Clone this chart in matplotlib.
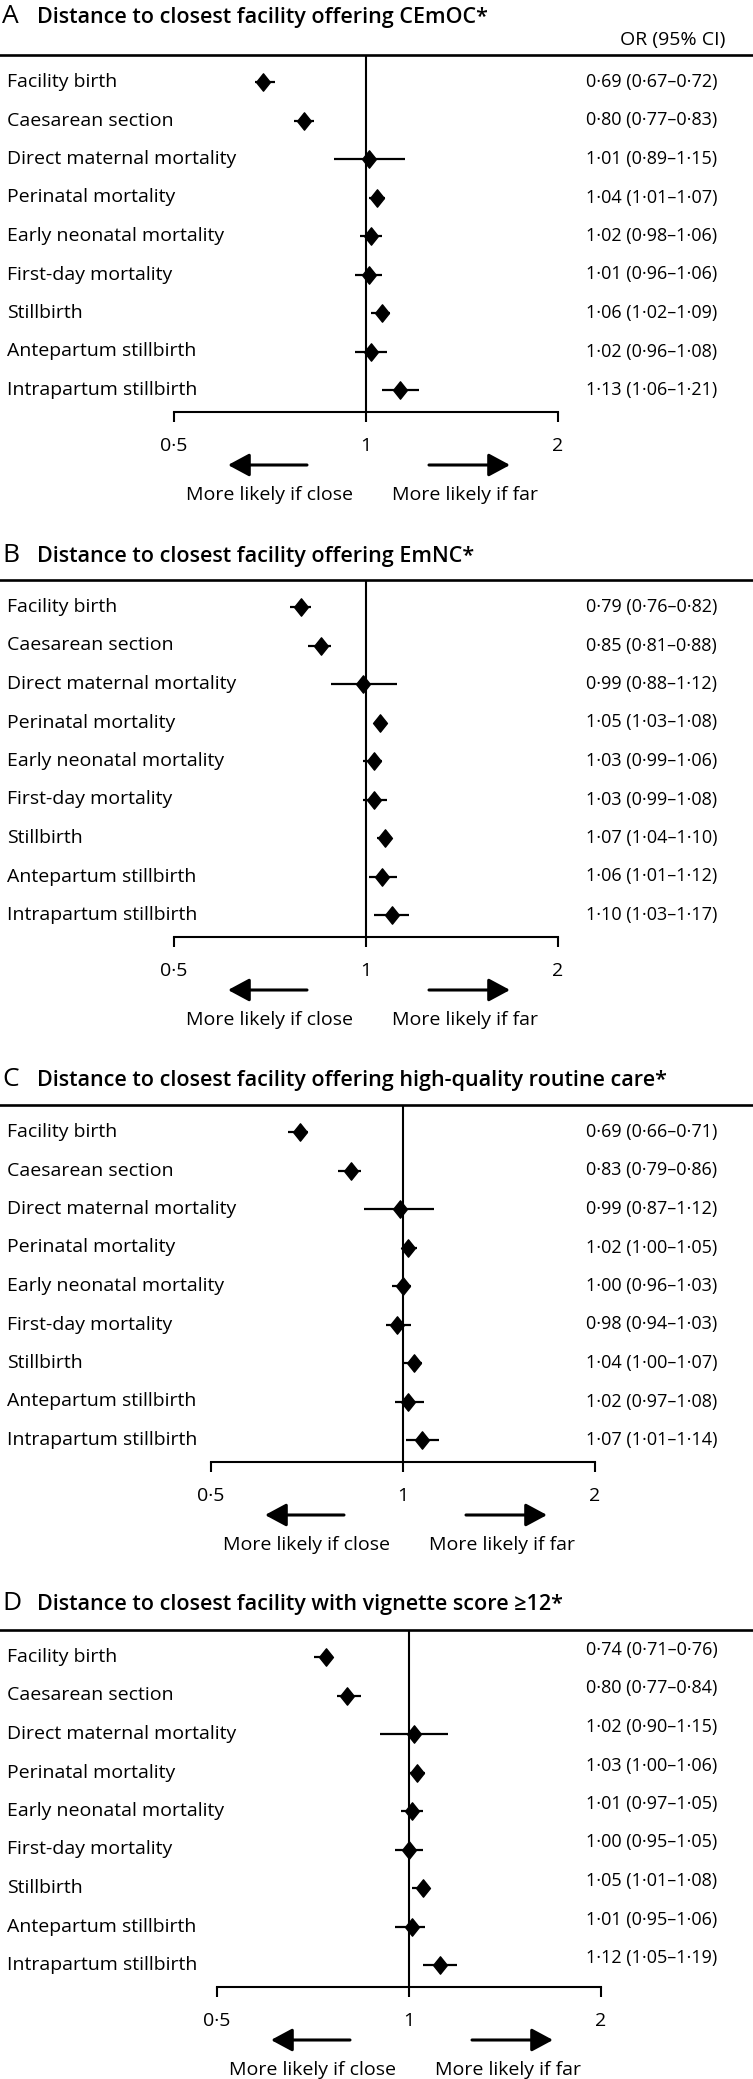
import matplotlib
matplotlib.use('Agg')
import matplotlib.pyplot as plt
import matplotlib.transforms as mtransforms
from matplotlib.path import Path
from matplotlib.ticker import NullLocator

plt.rcParams['font.family'] = ['Open Sans', 'DejaVu Sans']

# ---------------- data ----------------
outcomes = ["Facility birth", "Caesarean section", "Direct maternal mortality",
            "Perinatal mortality", "Early neonatal mortality", "First-day mortality",
            "Stillbirth", "Antepartum stillbirth", "Intrapartum stillbirth"]

panel_letters = ["A", "B", "C", "D"]
panel_titles = ["Distance to closest facility offering CEmOC*",
                "Distance to closest facility offering EmNC*",
                "Distance to closest facility offering high-quality routine care*",
                "Distance to closest facility with vignette score ≥12*"]

or_a = [0.69, 0.80, 1.01, 1.04, 1.02, 1.01, 1.06, 1.02, 1.13]
lo_a = [0.67, 0.77, 0.89, 1.01, 0.98, 0.96, 1.02, 0.96, 1.06]
hi_a = [0.72, 0.83, 1.15, 1.07, 1.06, 1.06, 1.09, 1.08, 1.21]

or_b = [0.79, 0.85, 0.99, 1.05, 1.03, 1.03, 1.07, 1.06, 1.10]
lo_b = [0.76, 0.81, 0.88, 1.03, 0.99, 0.99, 1.04, 1.01, 1.03]
hi_b = [0.82, 0.88, 1.12, 1.08, 1.06, 1.08, 1.10, 1.12, 1.17]

or_c = [0.69, 0.83, 0.99, 1.02, 1.00, 0.98, 1.04, 1.02, 1.07]
lo_c = [0.66, 0.79, 0.87, 1.00, 0.96, 0.94, 1.00, 0.97, 1.01]
hi_c = [0.71, 0.86, 1.12, 1.05, 1.03, 1.03, 1.07, 1.08, 1.14]

or_d = [0.74, 0.80, 1.02, 1.03, 1.01, 1.00, 1.05, 1.01, 1.12]
lo_d = [0.71, 0.77, 0.90, 1.00, 0.97, 0.95, 1.01, 0.95, 1.05]
hi_d = [0.76, 0.84, 1.15, 1.06, 1.05, 1.05, 1.08, 1.06, 1.19]

x_ticks = [0.5, 1, 2]
x_tick_labels = ["0·5", "1", "2"]
col_header = "OR (95% CI)"
left_note = "More likely if close"
right_note = "More likely if far"

panels = [(or_a, lo_a, hi_a), (or_b, lo_b, hi_b), (or_c, lo_c, hi_c), (or_d, lo_d, hi_d)]

# ---------------- layout (pixels) ----------------
W, H = 753, 2079
fig = plt.figure(figsize=(W / 100, H / 100), dpi=100)

panel_dy = 525
row_gap = 38.5
px_per_doubling = 192.0
center_x = [366, 366, 403, 409]
value_dy = [0, 0, 0, -7]
title_base = [23, 562, 1086, 1610]
FS = 14
FS_VAL = 13

diamond = Path([(0, 1), (0.8, 0), (0, -1), (-0.8, 0), (0, 1)],
               [Path.MOVETO, Path.LINETO, Path.LINETO, Path.LINETO, Path.CLOSEPOLY])


def fmt(v):
    return f"{v:.2f}".replace(".", "·")


for k in range(4):
    y0 = k * panel_dy
    top = 55 + y0
    row0 = 82 + y0
    axis_y = 412 + y0
    cx = center_x[k]
    orv, lov, hiv = panels[k]

    ax = fig.add_axes([0, 1 - axis_y / H, 1, (axis_y - top) / H])
    ax.set_xscale('log', base=2)
    ax.set_xlim(2 ** (-cx / px_per_doubling), 2 ** ((W - cx) / px_per_doubling))
    ax.set_ylim((axis_y - row0) / row_gap, -(row0 - top) / row_gap)
    ax.patch.set_alpha(0)

    for s in ['left', 'right']:
        ax.spines[s].set_visible(False)
    ax.spines['top'].set_linewidth(1.9)
    ax.spines['bottom'].set_linewidth(1.5)
    ax.spines['bottom'].set_bounds(x_ticks[0], x_ticks[-1])
    ax.set_xticks(x_ticks)
    ax.set_xticklabels(x_tick_labels, fontsize=FS)
    ax.xaxis.set_minor_locator(NullLocator())
    ax.tick_params(axis='x', direction='out', length=7, width=1.5, pad=11)
    ax.set_yticks([])

    ax.axvline(1, color='k', lw=1.5, zorder=1)

    ys = list(range(len(outcomes)))
    ax.hlines(ys, lov, hiv, color='k', lw=1.6, zorder=2)
    ax.plot(orv, ys, ls='none', marker=diamond, ms=12.5, color='k', zorder=3)

    trans = mtransforms.blended_transform_factory(fig.transFigure, ax.transData)
    for i, name in enumerate(outcomes):
        ax.text(7 / W, i, name, transform=trans, ha='left', va='center', fontsize=FS)
        ax.text(586 / W, i + value_dy[k] / row_gap,
                f"{fmt(orv[i])} ({fmt(lov[i])}–{fmt(hiv[i])})",
                transform=trans, ha='left', va='center', fontsize=FS_VAL)

    # arrows and notes below the axis
    y_arrow = (axis_y + 53 - row0) / row_gap
    y_note = (axis_y + 83 - row0) / row_gap
    aprops = dict(arrowstyle='-|>,head_length=1.3,head_width=0.7', lw=2.2, color='k',
                  mutation_scale=10, shrinkA=0, shrinkB=0)
    ax.annotate('', xy=(2 ** (-138 / px_per_doubling), y_arrow),
                xytext=(2 ** (-59 / px_per_doubling), y_arrow),
                arrowprops=aprops, annotation_clip=False)
    ax.annotate('', xy=(2 ** (144 / px_per_doubling), y_arrow),
                xytext=(2 ** (63 / px_per_doubling), y_arrow),
                arrowprops=aprops, annotation_clip=False)
    ax.text(2 ** (-96.5 / px_per_doubling), y_note, left_note, ha='center', va='center',
            fontsize=FS, clip_on=False)
    ax.text(2 ** (98.5 / px_per_doubling), y_note, right_note, ha='center', va='center',
            fontsize=FS, clip_on=False)

    # title
    base = title_base[k]
    fig.text(2 / W, 1 - base / H, panel_letters[k], fontsize=19, va='baseline', ha='left')
    fig.text(37 / W, 1 - base / H, panel_titles[k], fontsize=15.5, fontweight='semibold',
             va='baseline', ha='left')
    if k == 0:
        fig.text(725 / W, 1 - 40 / H, col_header, fontsize=14, va='center', ha='right')

fig.savefig('out.png', dpi=100)
